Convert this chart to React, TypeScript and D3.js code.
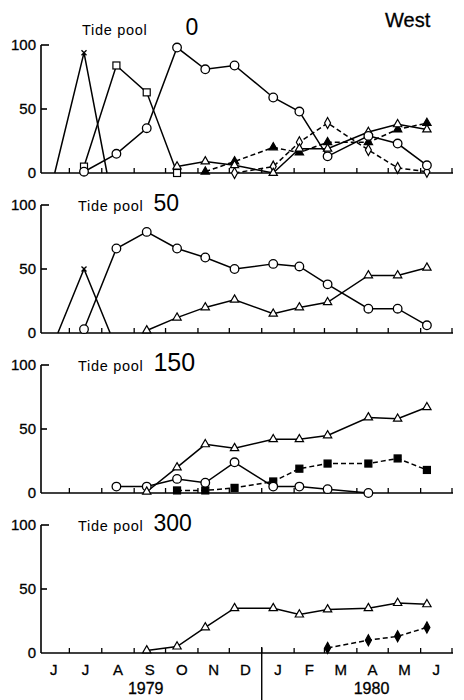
import React, { useEffect, useRef } from "react";
import * as d3 from "d3";

// sampling dates shared by all tide pools
const sampleDates = [
  "1979-07-15", "1979-08-15", "1979-09-13", "1979-10-12", "1979-11-08", "1979-12-06",
  "1980-01-12", "1980-02-06", "1980-03-04", "1980-04-12", "1980-05-10", "1980-06-07",
];

const monthLabels = ["J", "J", "A", "S", "O", "N", "D", "J", "F", "M", "A", "M", "J"];
const yearLabels = ["1979", "1980"];
const poolNames = ["0", "50", "150", "300"];

// Tide pool 0
const pool0CrossDates = ["1979-06-17", "1979-07-15", "1979-08-06"];
const pool0Cross = [0, 94, 0];
const pool0Square = [5, 84, 63, 0, null, null, null, null, null, null, null, null];
const pool0Circle = [1, 15, 35, 98, 81, 84, 59, 48, 13, 29, 23, 6];
const pool0TriOpen = [null, null, null, 5, 9, 6, 0, 19, 19, 32, 38, 34];
const pool0TriFilled = [null, null, null, null, 1, 9, 20, 16, 24, 24, 34, 39];
const pool0Diamond = [null, null, null, null, null, 0, 5, 24, 39, 18, 4, 1];

// Tide pool 50
const pool50CrossDates = ["1979-06-20", "1979-07-15", "1979-08-09"];
const pool50Cross = [0, 50, 0];
const pool50Circle = [3, 66, 79, 66, 59, 50, 54, 52, 38, 19, 19, 6];
const pool50TriOpen = [null, null, 2, 12, 20, 26, 15, 20, 24, 45, 45, 51];

// Tide pool 150
const pool150Circle = [null, 5, 5, 11, 8, 24, 5, 5, 3, 0, null, null];
const pool150TriOpen = [null, null, 1, 20, 38, 35, 42, 42, 45, 59, 58, 67];
const pool150SquareFilled = [null, null, null, 2, 2, 4, 9, 19, 23, 23, 27, 18];

// Tide pool 300
const pool300TriOpen = [null, null, 2, 5, 20, 35, 35, 30, 34, 35, 39, 38];
const pool300DiamondFilled = [null, null, null, null, null, null, null, null, 4, 10, 13, 20];

const FONT = "'Liberation Sans', Arial, sans-serif";

const App = () => {
  const svgRef = useRef<SVGSVGElement>(null);

  useEffect(() => {
    const svg = d3.select(svgRef.current);
    svg.selectAll("*").remove();

    const parse = d3.timeParse("%Y-%m-%d");
    const dates = sampleDates.map((d) => parse(d) as Date);
    const start = parse("1979-06-01") as Date;
    const end = parse("1980-07-01") as Date;

    const x = d3.scaleTime().domain([start, end]).range([38, 452]);
    const axisLeft = 41;
    const panelH = 128;
    const panelTop = (i: number) => 45 + 160 * i;

    const series = (values: (number | null)[], marker: string, dashed = false, ds = dates) => ({
      pts: values.map((v, i) => ({ date: ds[i], value: v })),
      marker,
      dashed,
    });

    const panels = [
      [
        series(pool0Cross, "cross", false, pool0CrossDates.map((d) => parse(d) as Date)),
        series(pool0Square, "squareOpen"),
        series(pool0TriFilled, "triFilled", true),
        series(pool0Diamond, "diamondOpen", true),
        series(pool0TriOpen, "triOpen"),
        series(pool0Circle, "circle"),
      ],
      [
        series(pool50Cross, "cross", false, pool50CrossDates.map((d) => parse(d) as Date)),
        series(pool50TriOpen, "triOpen"),
        series(pool50Circle, "circle"),
      ],
      [
        series(pool150SquareFilled, "squareFilled", true),
        series(pool150Circle, "circle"),
        series(pool150TriOpen, "triOpen"),
      ],
      [
        series(pool300DiamondFilled, "diamondFilled", true),
        series(pool300TriOpen, "triOpen"),
      ],
    ];

    const monthTicks = d3.timeMonth.range(d3.timeMonth.offset(start, 1), d3.timeMonth.offset(end, 1));

    panels.forEach((panel, pi) => {
      const g = svg.append("g").attr("transform", `translate(0,${panelTop(pi)})`);
      const y = d3.scaleLinear().domain([0, 100]).range([panelH, 0]);

      // y axis
      g.append("line")
        .attr("x1", axisLeft).attr("x2", axisLeft)
        .attr("y1", y(100)).attr("y2", y(0))
        .attr("stroke", "#000").attr("stroke-width", 1.6);
      [100, 50].forEach((t) => {
        g.append("line")
          .attr("x1", axisLeft).attr("x2", axisLeft + (t === 100 ? 8 : 6))
          .attr("y1", y(t)).attr("y2", y(t))
          .attr("stroke", "#000").attr("stroke-width", 1.6);
      });
      [0, 50, 100].forEach((t) => {
        g.append("text")
          .attr("x", axisLeft - 5).attr("y", y(t) + 5)
          .attr("text-anchor", "end")
          .attr("font-family", FONT).attr("font-size", 15)
          .attr("stroke", "#000").attr("stroke-width", 0.3)
          .text(t);
      });

      // x axis
      g.append("line")
        .attr("x1", axisLeft).attr("x2", x(end) + 1)
        .attr("y1", y(0)).attr("y2", y(0))
        .attr("stroke", "#000").attr("stroke-width", 1.6);
      monthTicks.forEach((m) => {
        g.append("line")
          .attr("x1", x(m)).attr("x2", x(m))
          .attr("y1", y(0)).attr("y2", y(0) - 5)
          .attr("stroke", "#000").attr("stroke-width", 1.3);
      });

      // title
      const title = g.append("text")
        .attr("x", pi === 0 ? 82 : 78).attr("y", pi === 0 ? -10 : 6)
        .attr("font-family", FONT);
      title.append("tspan").attr("font-size", 14.5).attr("letter-spacing", 0.7).text("Tide pool");
      title.append("tspan")
        .attr("dx", pi === 0 ? 38 : 10)
        .attr("font-size", pi === 2 ? 25 : 23)
        .text(poolNames[pi]);

      // lines
      panel.forEach((s) => {
        const line = d3.line<{ date: Date; value: number | null }>()
          .defined((d) => d.value !== null)
          .x((d) => x(d.date))
          .y((d) => y(d.value as number));
        g.append("path")
          .datum(s.pts)
          .attr("d", line)
          .attr("fill", "none")
          .attr("stroke", "#000")
          .attr("stroke-width", 1.5)
          .attr("stroke-dasharray", s.dashed ? "5,3" : null);
      });

      // markers
      panel.forEach((s) => {
        s.pts
          .filter((d) => d.value !== null)
          .forEach((d) => {
            const cx = x(d.date);
            const cy = y(d.value as number);
            const mg = g.append("g").attr("transform", `translate(${cx},${cy})`);
            switch (s.marker) {
              case "circle":
                mg.append("circle").attr("r", 4.3).attr("fill", "#fff").attr("stroke", "#000").attr("stroke-width", 1.3);
                break;
              case "triOpen":
              case "triFilled":
                mg.append("path")
                  .attr("d", d3.symbol().type(d3.symbolTriangle).size(30)())
                  .attr("fill", s.marker === "triOpen" ? "#fff" : "#000")
                  .attr("stroke", "#000").attr("stroke-width", 1.2);
                break;
              case "squareOpen":
              case "squareFilled":
                mg.append("rect")
                  .attr("x", -3.5).attr("y", -3.5).attr("width", 7).attr("height", 7)
                  .attr("fill", s.marker === "squareOpen" ? "#fff" : "#000")
                  .attr("stroke", "#000").attr("stroke-width", 1.2);
                break;
              case "diamondOpen":
              case "diamondFilled":
                mg.append("path")
                  .attr("d", "M0,-5.5L3,0L0,5.5L-3,0Z")
                  .attr("fill", s.marker === "diamondOpen" ? "#fff" : "#000")
                  .attr("stroke", "#000").attr("stroke-width", 1.2);
                break;
              case "cross":
                if ((d.value as number) > 0) {
                  mg.append("path")
                    .attr("d", "M-2.5,-2.5L2.5,2.5M-2.5,2.5L2.5,-2.5")
                    .attr("stroke", "#000").attr("stroke-width", 1.3);
                }
                break;
            }
          });
      });

      // bottom labels
      if (pi === panels.length - 1) {
        const months = d3.timeMonth.range(start, end);
        months.forEach((m, i) => {
          const mid = new Date((m.getTime() + d3.timeMonth.offset(m, 1).getTime()) / 2);
          g.append("text")
            .attr("x", x(mid)).attr("y", y(0) + 22)
            .attr("text-anchor", "middle")
            .attr("font-family", FONT).attr("font-size", 15)
            .attr("stroke", "#000").attr("stroke-width", 0.3)
            .text(monthLabels[i]);
        });
        const jan = parse("1980-01-01") as Date;
        g.append("line")
          .attr("x1", x(jan)).attr("x2", x(jan))
          .attr("y1", y(0) - 6).attr("y2", y(0) + 52)
          .attr("stroke", "#000").attr("stroke-width", 1.4);
        g.append("text")
          .attr("x", x(parse("1979-09-12") as Date)).attr("y", y(0) + 41)
          .attr("text-anchor", "middle")
          .attr("font-family", FONT).attr("font-size", 16)
          .attr("stroke", "#000").attr("stroke-width", 0.3)
          .text(yearLabels[0]);
        g.append("text")
          .attr("x", x(parse("1980-04-15") as Date)).attr("y", y(0) + 41)
          .attr("text-anchor", "middle")
          .attr("font-family", FONT).attr("font-size", 16)
          .attr("stroke", "#000").attr("stroke-width", 0.3)
          .text(yearLabels[1]);
      }
    });

    svg.append("text")
      .attr("x", 385).attr("y", 27)
      .attr("font-family", FONT).attr("font-size", 20)
      .attr("stroke", "#000").attr("stroke-width", 0.3)
      .text("West");
  }, []);

  return (
    <svg
      ref={svgRef}
      width={464}
      height={700}
      style={{ position: "absolute", left: 0, top: 0, background: "#fff" }}
    ></svg>
  );
};

export default App;
